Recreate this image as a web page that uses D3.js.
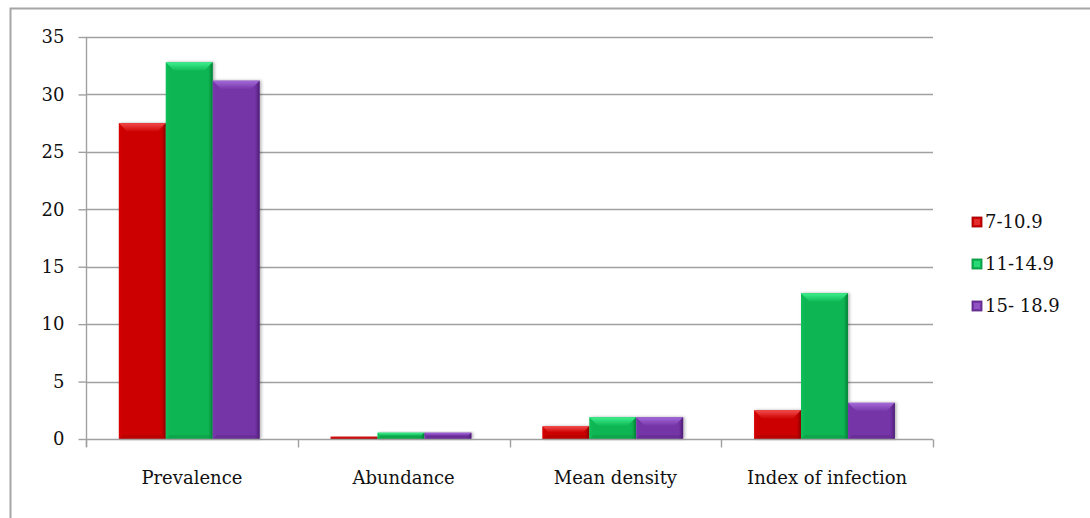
<!DOCTYPE html>
<html>
<head>
<meta charset="utf-8">
<script src="https://cdn.jsdelivr.net/npm/d3@7"></script>
<style>
  html, body { margin: 0; padding: 0; background: #fff; }
  svg { display: block; }
</style>
</head>
<body>
<svg id="chart" width="1090" height="518"></svg>
<script>
const categories = ["Prevalence", "Abundance", "Mean density", "Index of infection"];
const seriesNames = ["7-10.9", "11-14.9", "15- 18.9"];
const series1 = [27.5, 0.2, 1.1, 2.5];
const series2 = [32.8, 0.55, 1.9, 12.7];
const series3 = [31.2, 0.55, 1.9, 3.15];
const yTicks = [0, 5, 10, 15, 20, 25, 30, 35];
const colors = ["#cc0000", "#0bb653", "#7434a6"];
const lightColors = ["#f24a4a", "#3ef08e", "#a46ad8"];
const darkColors = ["#9a0000", "#068a3c", "#55237e"];

const seriesValues = [series1, series2, series3];
const FONT = "'DejaVu Serif', serif";

(function draw() {
const svg = d3.select("#chart");

svg.append("rect")
  .attr("x", 10.5).attr("y", 8.5)
  .attr("width", 1200).attr("height", 600)
  .attr("fill", "none").attr("stroke", "#a6a6a6").attr("stroke-width", 2);

const pL = 86, pR = 933, pT = 37, pB = 439;

const x0 = d3.scaleBand().domain(categories).range([pL, pR]).paddingInner(0).paddingOuter(0);
const bw = x0.bandwidth();
const x1 = d3.scaleBand().domain(d3.range(seriesNames.length)).range([bw * 0.155, bw * 0.82]).padding(0);
const y = d3.scaleLinear().domain([0, 35]).range([pB, pT]);

const defs = svg.append("defs");
colors.forEach((c, i) => {
  const g = defs.append("linearGradient").attr("id", "g" + i).attr("x1", 0).attr("x2", 1).attr("y1", 0).attr("y2", 0);
  g.append("stop").attr("offset", "0%").attr("stop-color", d3.color(c).brighter(0.15));
  g.append("stop").attr("offset", "8%").attr("stop-color", c);
  g.append("stop").attr("offset", "90%").attr("stop-color", c);
  g.append("stop").attr("offset", "100%").attr("stop-color", darkColors[i]);
  const t = defs.append("linearGradient").attr("id", "t" + i).attr("x1", 0).attr("x2", 0).attr("y1", 0).attr("y2", 1);
  t.append("stop").attr("offset", "0%").attr("stop-color", lightColors[i]);
  t.append("stop").attr("offset", "100%").attr("stop-color", c);
});
const filt = defs.append("filter").attr("id", "shadow").attr("x", "-20%").attr("y", "-20%").attr("width", "140%").attr("height", "140%");
filt.append("feDropShadow").attr("dx", 1.5).attr("dy", 0).attr("stdDeviation", 1.5).attr("flood-color", "#000").attr("flood-opacity", 0.3);

svg.append("g").selectAll("line").data(yTicks.filter(d => d > 0)).join("line")
  .attr("x1", pL).attr("x2", pR)
  .attr("y1", d => Math.round(y(d)) + 0.5).attr("y2", d => Math.round(y(d)) + 0.5)
  .attr("stroke", "#a0a0a0").attr("stroke-width", 1.4);

const yAxis = d3.axisLeft(y).tickValues(yTicks).tickSize(8).tickPadding(14).tickFormat(d3.format("d"));
const gy = svg.append("g").attr("transform", `translate(${pL + 0.5},0)`).call(yAxis);
gy.attr("font-family", FONT).attr("font-size", 18);
gy.select(".domain").attr("stroke", "#a0a0a0").attr("stroke-width", 1.4).attr("d", `M0,${pT}V${pB + 8}`);
gy.selectAll(".tick line").attr("stroke", "#a0a0a0").attr("stroke-width", 1.4);
gy.selectAll(".tick text").attr("fill", "#111");

const groups = svg.append("g").selectAll("g").data(categories).join("g")
  .attr("transform", d => `translate(${x0(d)},0)`);

groups.each(function(cat, ci) {
  const g = d3.select(this);
  seriesValues.forEach((vals, si) => {
    const v = vals[ci];
    const bx = x1(si), w = x1.bandwidth();
    const by = y(v), h = pB - by;
    const b = Math.min(9, h / 2);
    const bb = Math.min(4, h / 2);
    const bar = g.append("g").attr("filter", "url(#shadow)");
    bar.append("rect").attr("x", bx).attr("y", by).attr("width", w).attr("height", h)
      .attr("fill", `url(#g${si})`);
    bar.append("path")
      .attr("d", `M${bx},${by}L${bx + w},${by}L${bx + w - b},${by + b}L${bx + b},${by + b}Z`)
      .attr("fill", `url(#t${si})`);
    bar.append("path")
      .attr("d", `M${bx + w},${by}L${bx + w},${pB}L${bx + w - 2},${pB}L${bx + w - 2},${by + 2}Z`)
      .attr("fill", darkColors[si]).attr("opacity", 0.6);
    bar.append("path")
      .attr("d", `M${bx},${pB}L${bx + w},${pB}L${bx + w - bb},${pB - bb}L${bx + bb},${pB - bb}Z`)
      .attr("fill", darkColors[si]).attr("opacity", 0.35);
  });
});

const xAxis = d3.axisBottom(x0).tickSize(0).tickPadding(32);
const gx = svg.append("g").attr("transform", `translate(0,${pB + 0.5})`).call(xAxis);
gx.attr("font-family", FONT).attr("font-size", 18);
gx.select(".domain").attr("stroke", "#a0a0a0").attr("stroke-width", 1.4).attr("d", `M${pL},0H${pR}`);
gx.selectAll(".tick text").attr("fill", "#111");
const bounds = categories.map(c => x0(c)).concat([x0(categories[categories.length - 1]) + bw]);
gx.append("g").selectAll("line").data(bounds).join("line")
  .attr("x1", d => Math.round(d) + 0.5).attr("x2", d => Math.round(d) + 0.5)
  .attr("y1", 0).attr("y2", 8)
  .attr("stroke", "#a0a0a0").attr("stroke-width", 1.4);

const legend = svg.append("g").attr("transform", "translate(972,0)")
  .attr("font-family", FONT).attr("font-size", 18);
const ly = d3.scalePoint().domain(seriesNames).range([222, 306]);
const li = legend.selectAll("g").data(seriesNames).join("g")
  .attr("transform", d => `translate(0,${ly(d)})`);
li.append("rect").attr("x", 0).attr("y", -5).attr("width", 10).attr("height", 10)
  .attr("fill", (d, i) => colors[i]).attr("stroke", (d, i) => darkColors[i]).attr("stroke-width", 0.8);
li.append("rect").attr("x", 2).attr("y", -3).attr("width", 6).attr("height", 6)
  .attr("fill", (d, i) => lightColors[i]).attr("opacity", 0.6);
li.append("text").attr("x", 13).attr("y", 0).attr("dy", "0.35em").attr("fill", "#111")
  .text(d => d);
})();
</script>
</body>
</html>
